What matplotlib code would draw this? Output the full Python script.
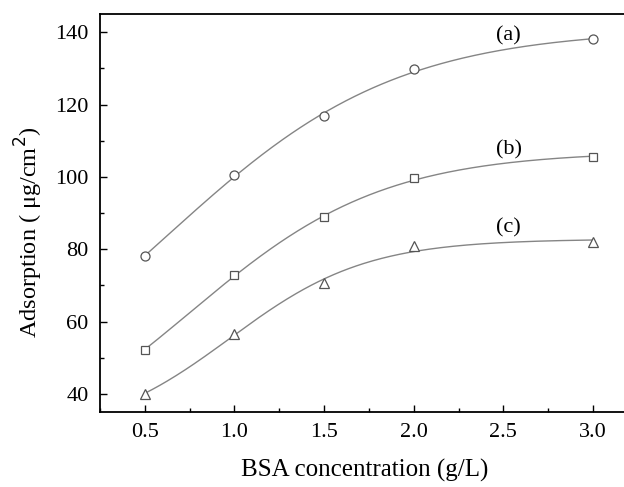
import numpy as np
import matplotlib
matplotlib.use("Agg")
import matplotlib.pyplot as plt
from matplotlib.ticker import MultipleLocator

conc = [0.5, 1.0, 1.5, 2.0, 3.0]
series_a = [78.1, 100.4, 116.9, 129.7, 138.0]
series_b = [52.2, 72.8, 88.8, 99.6, 105.5]
series_c = [40.1, 56.6, 70.7, 80.8, 81.9]
labels = ["(a)", "(b)", "(c)"]
markers = ["o", "s", "^"]


def boltzmann_fit(x, y):
    x = np.asarray(x, float)
    y = np.asarray(y, float)
    best = None
    for x0 in np.linspace(-1.0, 3.0, 161):
        for dx in np.linspace(0.1, 2.0, 96):
            s = 1.0 / (1.0 + np.exp((x - x0) / dx))
            M = np.column_stack([s, 1 - s])
            coef, *_ = np.linalg.lstsq(M, y, rcond=None)
            r = np.sum((M @ coef - y) ** 2)
            if best is None or r < best[0]:
                best = (r, x0, dx, coef)
    _, x0, dx, (A1, A2) = best
    return lambda t: A2 + (A1 - A2) / (1.0 + np.exp((t - x0) / dx))


plt.rcParams['font.family'] = ['Liberation Serif', 'DejaVu Serif']
fig = plt.figure(figsize=(6.24, 4.87), dpi=100)
ax = fig.add_axes([0.160, 0.154, 0.848, 0.817])

xs = np.linspace(0.5, 3.0, 300)
col = "#858585"
for ys, m in zip([series_a, series_b, series_c], markers):
    f = boltzmann_fit(conc, ys)
    ax.plot(xs, f(xs), color=col, lw=1.0)
    ax.plot(conc, ys, linestyle="none", marker=m, ms=6.5 if m != "s" else 6,
            mfc="white", mec="#555555", mew=0.9)

ax.text(2.53, 138.9, labels[0], fontsize=16, ha="center", va="center")
ax.text(2.53, 107.6, labels[1], fontsize=16, ha="center", va="center")
ax.text(2.53, 85.9, labels[2], fontsize=16, ha="center", va="center")

ax.set_xlim(0.25, 3.2)
ax.set_ylim(35, 145)
ax.xaxis.set_major_locator(MultipleLocator(0.5))
ax.xaxis.set_minor_locator(MultipleLocator(0.25))
ax.yaxis.set_major_locator(MultipleLocator(20))
ax.yaxis.set_minor_locator(MultipleLocator(10))
ax.set_xticks([0.5, 1.0, 1.5, 2.0, 2.5, 3.0])
ax.set_xticklabels(["0.5", "1.0", "1.5", "2.0", "2.5", "3.0"])
ax.tick_params(which="both", direction="in", labelsize=16, width=1.0)
ax.tick_params(which="major", length=5, pad=8)
ax.tick_params(which="minor", length=3)
ax.tick_params(top=False, right=False, which="both")
for s in ax.spines.values():
    s.set_linewidth(1.3)

ax.set_xlabel("BSA concentration (g/L)", fontsize=18, labelpad=12)
ax.set_ylabel("Adsorption ( μg/cm$^2$)", fontsize=17.5)
ax.yaxis.set_label_coords(-0.103, 0.452)

fig.savefig("out.png", dpi=100)
